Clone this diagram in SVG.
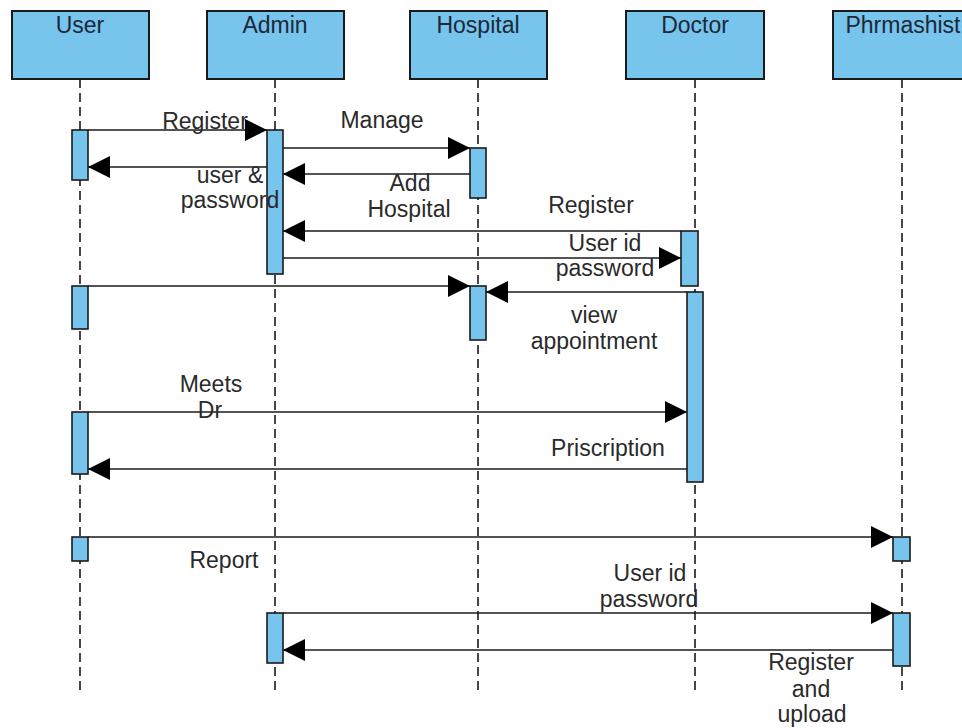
<svg xmlns="http://www.w3.org/2000/svg" width="962" height="728" viewBox="0 0 962 728">
  <style>
    .head { fill: #77c4ed; stroke: #1a1a1a; stroke-width: 2; }
    .act { fill: #77c4ed; stroke: #1a1a1a; stroke-width: 1.6; }
    .life { stroke: #1a1a1a; stroke-width: 1.6; stroke-dasharray: 9 5; fill: none; }
    .msg { stroke: #1a1a1a; stroke-width: 1.6; fill: none; marker-end: url(#arrow); }
    .title { font-family: "Liberation Sans", Arial, sans-serif; font-size: 23px; fill: #1c2838; text-anchor: middle; }
    .lbl { font-family: "Liberation Sans", Arial, sans-serif; font-size: 23px; fill: #2a2a2a; text-anchor: middle; }
  </style>
  <defs>
    <marker id="arrow" markerUnits="userSpaceOnUse" markerWidth="22" markerHeight="22" refX="22" refY="11" orient="auto">
      <path d="M0,0 L22,11 L0,22 Z" fill="#000"/>
    </marker>
  </defs>
  <rect width="962" height="728" fill="#fff"/>

  <!-- lifelines -->
  <g id="lifelines">
    <line class="life" x1="80" y1="79" x2="80" y2="690"/>
    <line class="life" x1="275" y1="79" x2="275" y2="690"/>
    <line class="life" x1="478" y1="79" x2="478" y2="690"/>
    <line class="life" x1="695" y1="79" x2="695" y2="690"/>
    <line class="life" x1="902" y1="79" x2="902" y2="690"/>
  </g>

  <g id="user">
    <rect class="head" x="12" y="11" width="137" height="68"/>
    <text class="title" x="80" y="33">User</text>
    <rect class="act" x="72" y="130" width="16" height="50"/>
    <rect class="act" x="72" y="286" width="16" height="43"/>
    <rect class="act" x="72" y="412" width="16" height="62"/>
    <rect class="act" x="72" y="537" width="16" height="24"/>
  </g>

  <g id="admin">
    <rect class="head" x="207" y="11" width="137" height="68"/>
    <text class="title" x="275" y="33">Admin</text>
    <rect class="act" x="267" y="130" width="16" height="144"/>
    <rect class="act" x="267" y="613" width="16" height="50"/>
  </g>

  <g id="hospital">
    <rect class="head" x="410" y="11" width="137" height="68"/>
    <text class="title" x="478" y="33">Hospital</text>
    <rect class="act" x="470" y="148" width="16" height="50"/>
    <rect class="act" x="470" y="286" width="16" height="54"/>
  </g>

  <g id="doctor">
    <rect class="head" x="626" y="11" width="138" height="68"/>
    <text class="title" x="695" y="33">Doctor</text>
    <rect class="act" x="681" y="231" width="17" height="55"/>
    <rect class="act" x="687" y="292" width="16" height="190"/>
  </g>

  <g id="pharmacist">
    <rect class="head" x="833" y="11" width="140" height="68"/>
    <text class="title" x="903" y="33">Phrmashist</text>
    <rect class="act" x="893" y="537" width="17" height="24"/>
    <rect class="act" x="893" y="613" width="17" height="53"/>
  </g>

  <!-- messages -->
  <g id="connectors">
    <line class="msg" x1="88" y1="130" x2="267" y2="130"/>
    <line class="msg" x1="283" y1="148" x2="470" y2="148"/>
    <line class="msg" x1="267" y1="167" x2="88" y2="167"/>
    <line class="msg" x1="470" y1="174" x2="283" y2="174"/>
    <line class="msg" x1="681" y1="231" x2="283" y2="231"/>
    <line class="msg" x1="283" y1="258" x2="681" y2="258"/>
    <line class="msg" x1="88" y1="286" x2="470" y2="286"/>
    <line class="msg" x1="687" y1="292" x2="486" y2="292"/>
    <line class="msg" x1="88" y1="412" x2="687" y2="412"/>
    <line class="msg" x1="687" y1="469" x2="88" y2="469"/>
    <line class="msg" x1="88" y1="537" x2="893" y2="537"/>
    <line class="msg" x1="283" y1="613" x2="893" y2="613"/>
    <line class="msg" x1="893" y1="650" x2="283" y2="650"/>
  </g>

  <!-- message labels -->
  <g id="labels">
    <text class="lbl" x="205" y="129">Register</text>
    <text class="lbl" x="382" y="128">Manage</text>
    <text class="lbl" x="230" y="183">user &amp;</text>
    <text class="lbl" x="230" y="208">password</text>
    <text class="lbl" x="410" y="191">Add</text>
    <text class="lbl" x="409" y="217">Hospital</text>
    <text class="lbl" x="591" y="213">Register</text>
    <text class="lbl" x="605" y="251">User id</text>
    <text class="lbl" x="605" y="276">password</text>
    <text class="lbl" x="594" y="323">view</text>
    <text class="lbl" x="594" y="349">appointment</text>
    <text class="lbl" x="211" y="392">Meets</text>
    <text class="lbl" x="210" y="418">Dr</text>
    <text class="lbl" x="608" y="456">Priscription</text>
    <text class="lbl" x="224" y="568">Report</text>
    <text class="lbl" x="650" y="581">User id</text>
    <text class="lbl" x="649" y="607">password</text>
    <text class="lbl" x="811" y="670">Register</text>
    <text class="lbl" x="811" y="697">and</text>
    <text class="lbl" x="812" y="722">upload</text>
  </g>
</svg>
